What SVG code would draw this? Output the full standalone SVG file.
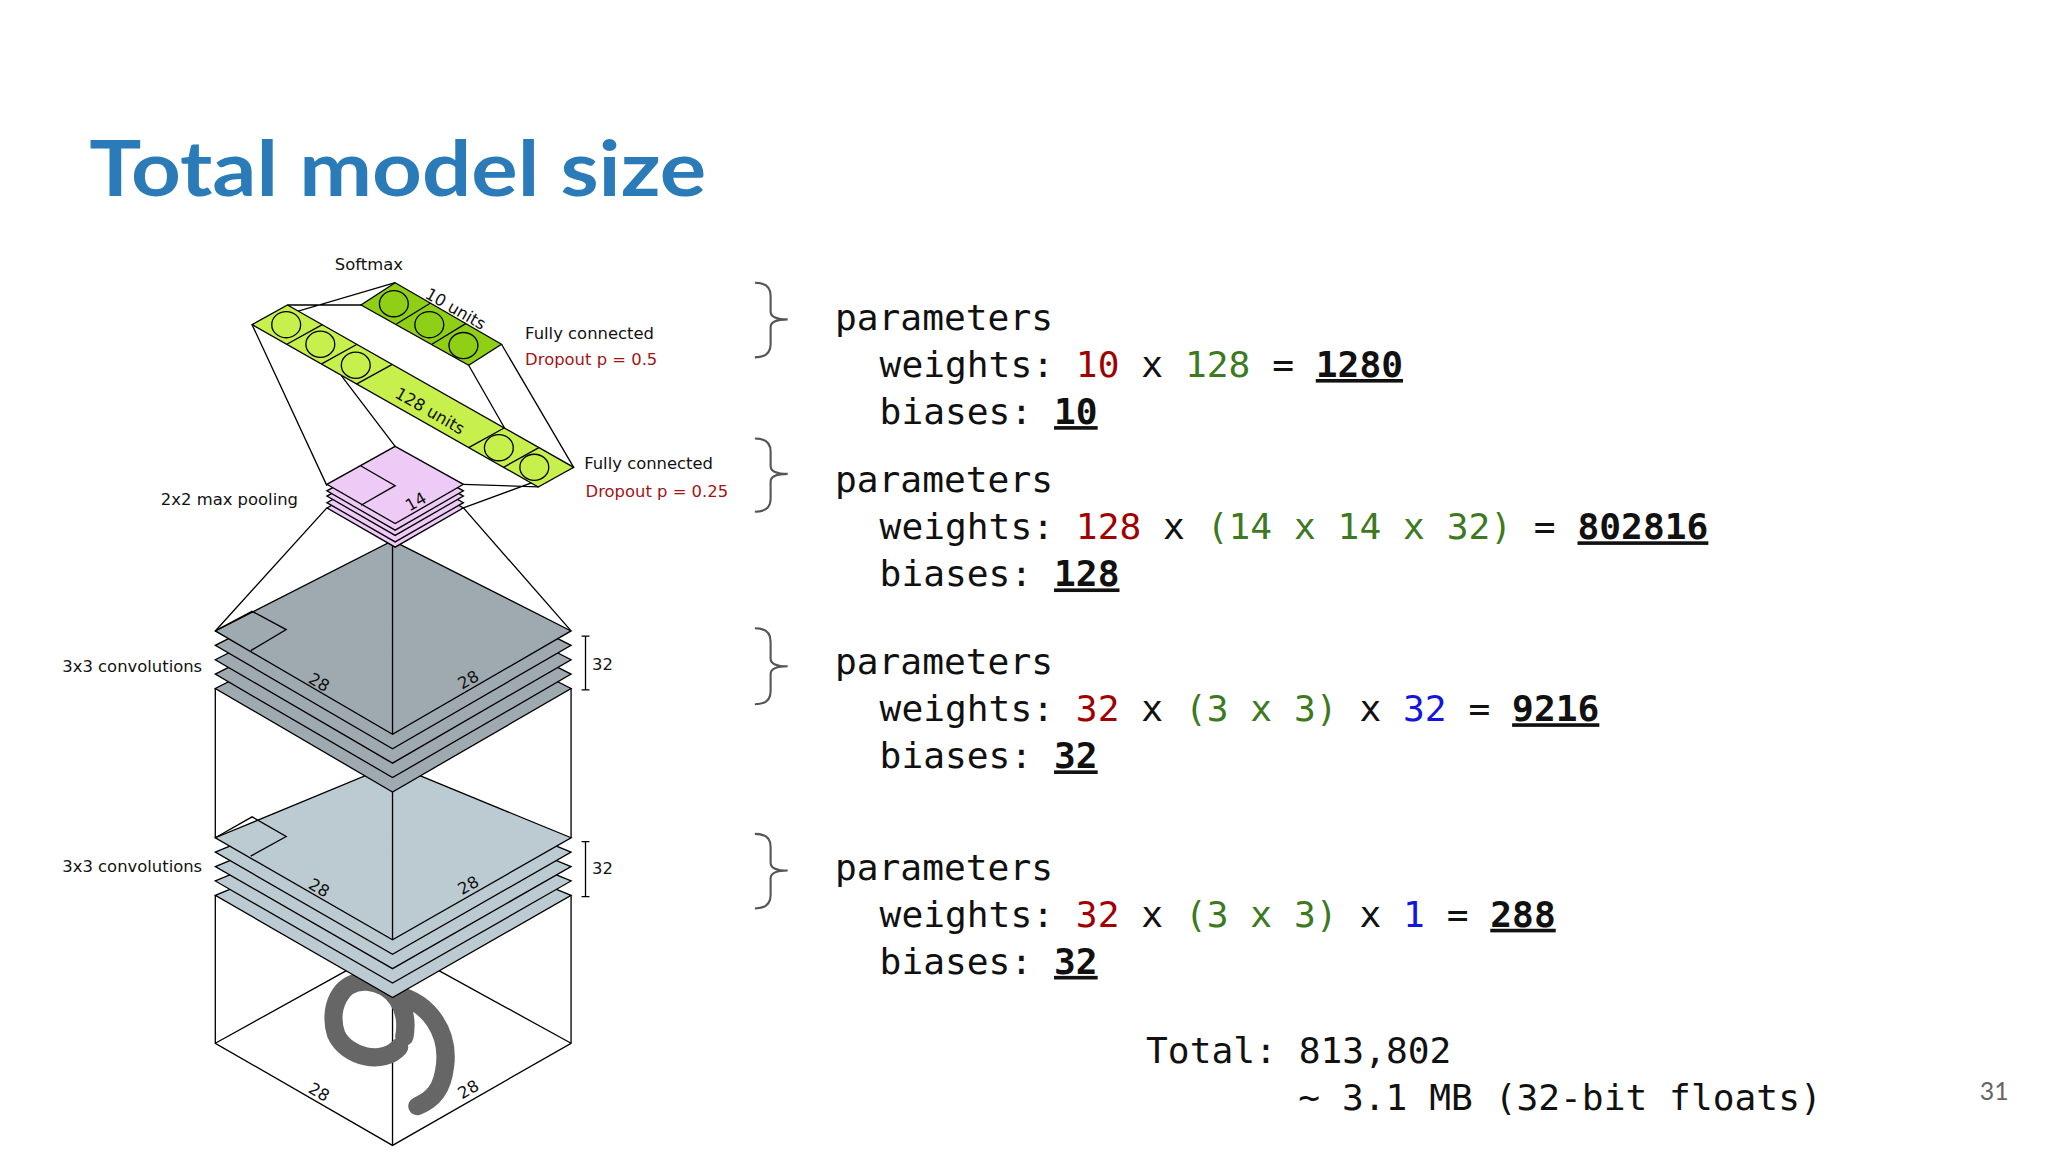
<svg xmlns="http://www.w3.org/2000/svg" width="2048" height="1152" viewBox="0 0 2048 1152">
<style>
.ln{stroke:#000;stroke-width:1;fill:none}
.lbl{font-family:"DejaVu Sans",sans-serif;font-size:12.5px;fill:#111}
.red{fill:#a31515}
.m{font-family:"DejaVu Sans Mono",monospace;font-size:27.6px;fill:#111}
.r{fill:#a00000}.g{fill:#3d7a1f}.b{fill:#1414e0}
.u{font-weight:bold;text-decoration:underline}
.br{stroke:#555;stroke-width:1.6;fill:none}
.gray{fill:#9fa9b0;stroke:#000;stroke-width:1}
.light{fill:#bccbd2;stroke:#000;stroke-width:1}
.pink{fill:#eecbf7;stroke:#000;stroke-width:1}
.g1{fill:#c8f04c;stroke:#000;stroke-width:1}
.g2{fill:#8fd016;stroke:#000;stroke-width:1}
</style>
<rect width="2048" height="1152" fill="#fff"/>
<g transform="scale(1.3128,1.309)">
<text id="title" x="68" y="150" font-family="Lato,sans-serif" font-weight="bold" font-size="58" fill="#2b7bb9" textLength="470" lengthAdjust="spacingAndGlyphs">Total model size</text>
<text x="1508" y="840" font-family="Lato,sans-serif" font-size="19" fill="#666">31</text>

<g id="connectors">
<!-- bottom cube -->
<path class="ln" d="M164,797 L299,722 L435,797 M164,684 V797 L299,875 L435,797 V684 M299,762 V875"/>
<!-- middle cube -->
<path class="ln" d="M164,526 V640 M435,526 V640"/>
<!-- gray to pool -->
<path class="ln" d="M164,482 L249,388 M435,482 L353,388"/>
<!-- pool to fc128 -->
<path class="ln" d="M249,371 L192,248 M301,341 L260,287 M353,370 L410,372 M353,388 L437,357"/>
<!-- fc128 to fc10 -->
<path class="ln" d="M192,248 L301,216 M219,233 L275,233 M382,263 L437,357 M357,279 L410,372"/>
</g>

<g id="digit">
<path d="M308,792 C312,770 300,752 280,750 C258,748 250,772 256,790 C264,808 292,814 304,800 M302,760 C328,766 342,790 339,814 C337,832 330,840 318,845" stroke="#666" stroke-width="14" fill="none" stroke-linecap="round"/>
</g>

<g id="conv1">
<polygon class="light" points="299,628 435,684 299,762 164,684"/>
<polygon class="light" points="299,617 435,673 299,751 164,673"/>
<polygon class="light" points="299,606 435,662 299,740 164,662"/>
<polygon class="light" points="299,595 435,651 299,729 164,651"/>
<polygon class="light" points="299,584 435,640 299,718 164,640"/>
<path class="ln" d="M299,584 V718 M164,640 L192,624 L218,639 L191,654"/>
<text class="lbl" transform="translate(234,678) rotate(30)">28</text>
<text class="lbl" transform="translate(352,684) rotate(-30)">28</text>
<path class="ln" d="M446,643 V685 M443,643 H449 M443,685 H449"/>
<text class="lbl" x="451" y="668">32</text>
<text class="lbl" x="154" y="666" text-anchor="end">3x3 convolutions</text>
</g>
<text class="lbl" transform="translate(234,834) rotate(30)">28</text>
<text class="lbl" transform="translate(352,840) rotate(-30)">28</text>

<g id="conv2">
<polygon class="gray" points="299,457 435,526 299,605 164,526"/>
<polygon class="gray" points="299,446 435,515 299,594 164,515"/>
<polygon class="gray" points="299,435 435,504 299,583 164,504"/>
<polygon class="gray" points="299,424 435,493 299,572 164,493"/>
<polygon class="gray" points="299,413 435,482 299,561 164,482"/>
<path class="ln" d="M299,413 V561 M164,482 L192,467 L218,481 L191,497"/>
<text class="lbl" transform="translate(234,521) rotate(30)">28</text>
<text class="lbl" transform="translate(352,527) rotate(-30)">28</text>
<path class="ln" d="M446,486 V527 M443,486 H449 M443,527 H449"/>
<text class="lbl" x="451" y="512">32</text>
<text class="lbl" x="154" y="513" text-anchor="end">3x3 convolutions</text>
</g>

<g id="pool">
<polygon class="pink" points="301,359 353,388 301,418 249,388"/>
<polygon class="pink" points="301,355 353,384 301,414 249,384"/>
<polygon class="pink" points="301,350 353,379 301,409 249,379"/>
<polygon class="pink" points="301,346 353,375 301,405 249,375"/>
<polygon class="pink" points="301,341 353,370 301,400 249,370"/>
<path class="ln" d="M275,356 L301,371 L275,386"/>
<text class="lbl" transform="translate(312,391) rotate(-30)">14</text>
<text class="lbl" x="227" y="386" text-anchor="end">2x2 max pooling</text>
</g>

<g id="fc128">
<polygon class="g1" points="219,233 437,357 410,372 192,248"/>
<path class="ln" d="M245.5,248 L218.5,263 M272,263 L245,278 M298.5,278.5 L271.5,293.5 M384,327 L357,342 M410.5,342 L383.5,357"/>
<ellipse class="ln" cx="218" cy="248" rx="11" ry="10"/>
<ellipse class="ln" cx="244" cy="263" rx="11" ry="10"/>
<ellipse class="ln" cx="271" cy="279" rx="11" ry="10"/>
<ellipse class="ln" cx="380" cy="342" rx="11" ry="10"/>
<ellipse class="ln" cx="407" cy="357" rx="11" ry="10"/>
<text class="lbl" transform="translate(300,303) rotate(30)">128 units</text>
</g>

<g id="fc10">
<polygon class="g2" points="301,216 382,263 357,279 275,233"/>
<path class="ln" d="M328,231.5 L302,247.5 M355,247 L329,263"/>
<ellipse class="ln" cx="300" cy="232" rx="11" ry="10"/>
<ellipse class="ln" cx="327" cy="248" rx="11" ry="10"/>
<ellipse class="ln" cx="353" cy="264" rx="11" ry="10"/>
<text class="lbl" transform="translate(323,227) rotate(30)">10 units</text>
</g>

<g id="labels">
<text class="lbl" x="281" y="206" text-anchor="middle">Softmax</text>
<text class="lbl" x="400" y="259">Fully connected</text>
<text class="lbl red" x="400" y="279">Dropout p = 0.5</text>
<text class="lbl" x="445" y="358">Fully connected</text>
<text class="lbl red" x="446" y="380">Dropout p = 0.25</text>
</g>

<g id="braces">
<path class="br" d="M575,216 Q587,216 587,226 V238 Q587,244 600,244 Q587,244 587,250 V263 Q587,273 575,273"/>
<path class="br" d="M575,335 Q587,335 587,345 V356 Q587,362 600,362 Q587,362 587,368 V381 Q587,391 575,391"/>
<path class="br" d="M575,480 Q587,480 587,490 V503 Q587,509 600,509 Q587,509 587,515 V528 Q587,538 575,538"/>
<path class="br" d="M575,637 Q587,637 587,647 V659 Q587,665 600,665 Q587,665 587,671 V684 Q587,694 575,694"/>
</g>

<g id="params" xml:space="preserve">
<text class="m" x="636" y="252">parameters</text>
<text class="m" x="670" y="288">weights: <tspan class="r">10</tspan> x <tspan class="g">128</tspan> = <tspan class="u">1280</tspan></text>
<text class="m" x="670" y="324">biases: <tspan class="u">10</tspan></text>
<text class="m" x="636" y="376">parameters</text>
<text class="m" x="670" y="412">weights: <tspan class="r">128</tspan> x <tspan class="g">(14 x 14 x 32)</tspan> = <tspan class="u">802816</tspan></text>
<text class="m" x="670" y="448">biases: <tspan class="u">128</tspan></text>
<text class="m" x="636" y="515">parameters</text>
<text class="m" x="670" y="551">weights: <tspan class="r">32</tspan> x <tspan class="g">(3 x 3)</tspan> x <tspan class="b">32</tspan> = <tspan class="u">9216</tspan></text>
<text class="m" x="670" y="587">biases: <tspan class="u">32</tspan></text>
<text class="m" x="636" y="672">parameters</text>
<text class="m" x="670" y="708">weights: <tspan class="r">32</tspan> x <tspan class="g">(3 x 3)</tspan> x <tspan class="b">1</tspan> = <tspan class="u">288</tspan></text>
<text class="m" x="670" y="744">biases: <tspan class="u">32</tspan></text>
<text class="m" x="873" y="812">Total: 813,802</text>
<text class="m" x="989" y="848">~ 3.1 MB (32-bit floats)</text>
</g>
</g>
</svg>
